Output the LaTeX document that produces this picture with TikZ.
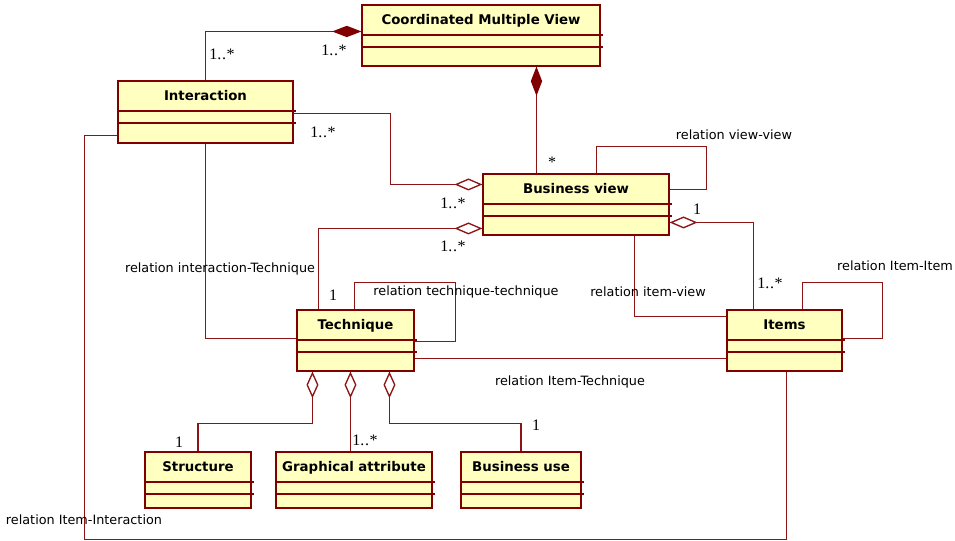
\documentclass[tikz,border=0pt]{standalone}
\usepackage{fontspec}
\setmainfont{DejaVu Sans}
\newfontfamily\multfont{Liberation Serif}
\usetikzlibrary{arrows.meta,calc,fit}
\definecolor{boxborder}{RGB}{128,0,0}
\definecolor{connc}{RGB}{140,20,20}
\definecolor{boxfill}{RGB}{255,255,192}
\tikzset{
  classshape/.style={draw=boxborder, fill=boxfill, line width=0.8pt, inner sep=0pt},
  compline/.style={draw=boxborder, line width=0.8pt},
  classtitle/.style={font=\bfseries\fontsize{10}{12}\selectfont, inner sep=0pt, anchor=base},
  conn/.style={draw=connc, line width=1pt},
  lbl/.style={font=\fontsize{9.6}{11}\selectfont, inner sep=0pt, text height=7pt, text depth=2pt},
  mult/.style={font=\multfont\fontsize{12}{14}\selectfont, inner sep=0pt, text height=8pt, text depth=0pt},
  compos/.style={conn, {Diamond[length=22pt,width=8.5pt,fill=boxborder,color=boxborder]}-},
  aggr/.style={conn, {Diamond[length=21pt,width=9pt,fill=white]}-},
  vaggr/.style={conn, {Diamond[length=20pt,width=9pt,fill=white]}-},
}
\newcommand\umlclass[8]{%
  \node[classshape, fit={(#2,#3) (#4,#5)}] (#1) {};
  \draw[compline] (#2,#6) -- ({#4+3},#6);
  \draw[compline] (#2,#7) -- ({#4+3},#7);
  \node[classtitle] at ({(#2+#4)/2},{(#3+#6)/2+4.8}) {#8};
}
\newcommand\many{1.\kern0.6pt.\kern0.3pt*}
\begin{document}
\begin{tikzpicture}[x=0.75pt,y=-0.75pt]
\useasboundingbox (0,0) rectangle (955,541);

\umlclass{cmv}{362}{5}{600}{66}{35}{47}{Coordinated Multiple View}
\umlclass{inter}{118}{81}{293}{143}{111}{123}{Interaction}
\umlclass{bv}{483}{174}{669}{235}{204}{216}{Business view}
\umlclass{tech}{297}{310}{414}{371}{340}{352}{Technique}
\umlclass{items}{727}{310}{842}{371}{340}{352}{Items}
\umlclass{struct}{145}{452}{251}{508}{482}{494}{Structure}
\umlclass{graph}{276}{452}{432}{508}{482}{494}{Graphical attribute}
\umlclass{buse}{461}{452}{581}{508}{482}{494}{Business use}

% connectors
\draw[compos] ($(cmv.north west)+(0,27)$) -| (inter.north);
\draw[compos] ($(cmv.south west)+(175,0)$) -- ($(bv.north west)+(54,0)$);
\draw[aggr] ($(bv.north west)+(0,11)$) -| ($(inter.north east)+(97,33)$) -- ($(inter.north east)+(0,33)$);
\draw[aggr] ($(bv.north west)+(0,55)$) -| ($(tech.north west)+(22,0)$);
\draw[conn] ($(bv.north west)+(114,0)$) |- ($(bv.north east)+(37,-27)$) |- ($(bv.north east)+(0,16)$);
\draw[aggr] ($(bv.north east)+(0,49)$) -| ($(items.north west)+(27,0)$);
\draw[conn] ($(bv.south west)+(152,0)$) |- ($(items.north west)+(0,7)$);
\draw[conn] (inter.south) |- ($(tech.north west)+(0,29)$);
\draw[conn] ($(tech.north west)+(58,0)$) |- ($(tech.north east)+(41,-27)$) |- ($(tech.north east)+(0,32)$);
\draw[conn] ($(tech.north east)+(0,49)$) -- ($(items.north west)+(0,49)$);
\draw[conn] ($(items.north west)+(76,0)$) |- ($(items.north east)+(40,-27)$) |- ($(items.north east)+(0,29)$);
\draw[conn] ($(items.south west)+(60,0)$) |- ($(inter.north west)+(-33,459)$) |- ($(inter.north west)+(0,55)$);
\draw[vaggr] ($(tech.south west)+(16,0)$) |- ($(struct.north)+(0,-28)$) -- (struct.north);
\draw[vaggr] ($(tech.south west)+(54,0)$) -- ($(graph.north west)+(75,0)$);
\draw[vaggr] ($(tech.south west)+(93,0)$) |- ($(buse.north)+(0,-28)$) -- (buse.north);

% multiplicities
\node[mult] (m1) at (222,54) {\many};
\node[mult] (m2) at (334,50) {\many};
\node[mult] (m3) at (323,132) {\many};
\node[mult] (m4) at (552,162) {*};
\node[mult] (m5) at (453,203) {\many};
\node[mult] (m6) at (453,246) {\many};
\node[mult] (m7) at (697,209) {1};
\node[mult] (m8) at (770,283) {\many};
\node[mult] (m9) at (333,295) {1};
\node[mult] (m10) at (179,442) {1};
\node[mult] (m11) at (365,440) {\many};
\node[mult] (m12) at (536,425) {1};

% labels
\node[lbl] (l1) at (734,136) {relation view-view};
\node[lbl] (l2) at (895,267) {relation Item-Item};
\node[lbl] (l3) at (648,293) {relation item-view};
\node[lbl] (l4) at (220,269) {relation interaction-Technique};
\node[lbl] (l5) at (466,292) {relation technique-technique};
\node[lbl] (l6) at (570,382) {relation Item-Technique};
\node[lbl] (l7) at (84,521) {relation Item-Interaction};
\end{tikzpicture}
\end{document}
